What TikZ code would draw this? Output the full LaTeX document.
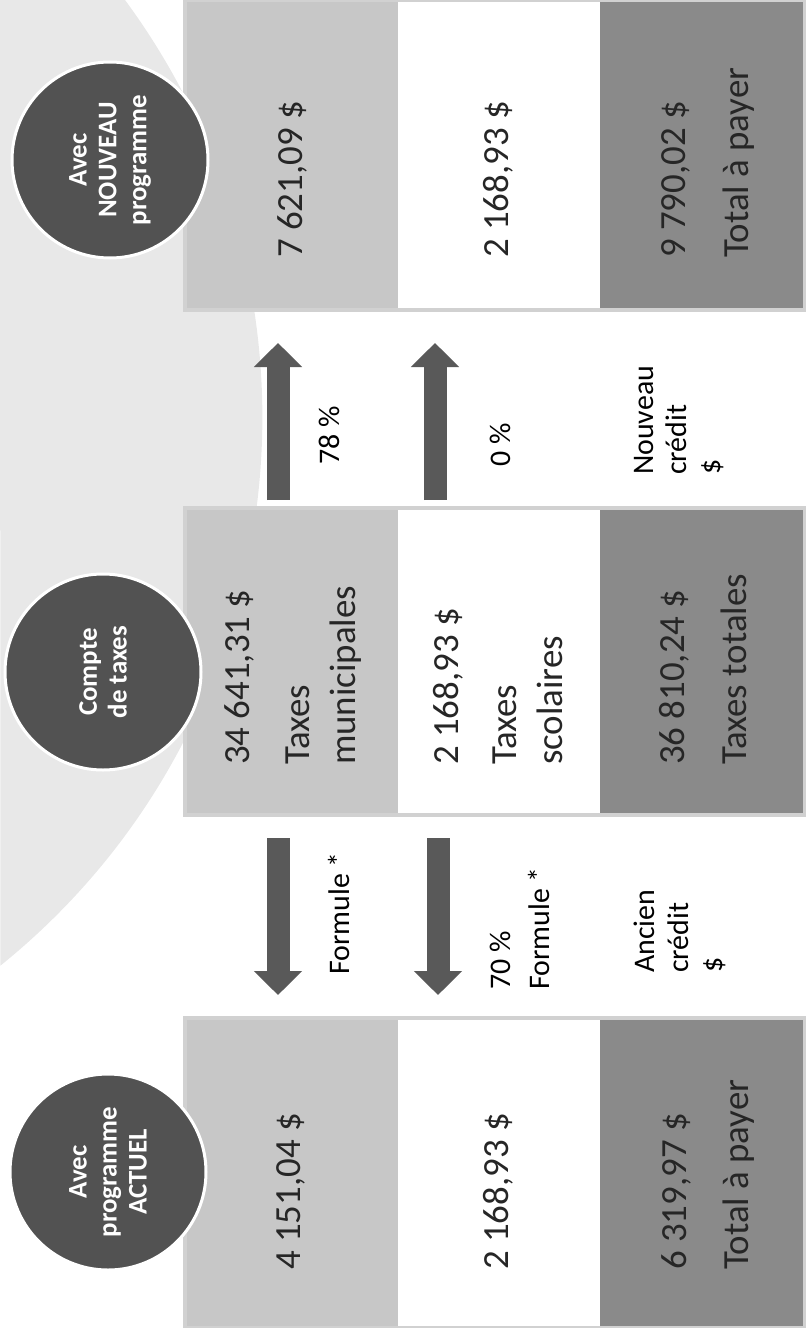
\documentclass[tikz,border=0pt]{standalone}
\usepackage{fontspec}
\setmainfont{Carlito}
\usetikzlibrary{arrows.meta}

\begin{document}
\begin{tikzpicture}[
	x=1bp, y=-1bp,
	amount/.style={rotate=90, anchor=west, align=left, inner sep=0pt, text=black!85, font=\fontsize{37}{46}\selectfont},
	note/.style={rotate=90, anchor=west, align=left, inner sep=0pt, font=\fontsize{30}{34}\selectfont},
	badge/.style={circle, fill=black!68, draw=white, line width=3bp, minimum size=196bp, inner sep=0pt, align=center, text=white, rotate=90, font=\bfseries\fontsize{27}{30}\selectfont},
	flow/.style={draw=black!65, line width=23bp, -{Triangle[width=47bp, length=24bp]}}
	]
	\useasboundingbox (0,0) rectangle (805,1328);
	% pale arc behind the badges
	\fill[black!9] (0,0) -- (125,0) arc[start angle=-36.4, end angle=51.1, radius=704] -- cycle;
	% the three blocks: amount, school tax, total
	\foreach \top/\bot in {0/310, 508/815, 1018/1328} {
		\fill[black!22] (185,\top) rectangle (398,\bot);
		\fill[white] (398,\top) rectangle (600,\bot);
		\fill[black!46] (600,\top) rectangle (805,\bot);
		\draw[black!18, line width=4bp] (185,\top) rectangle (805,\bot);
	}
	\node[badge] (nouv) at (110,160) {Avec\\NOUVEAU\\programme};
	\node[badge] (cpte) at (103,672) {Compte\\de taxes};
	\node[badge] (actu) at (108,1172) {Avec\\programme\\ACTUEL};
	% new program
	\node[amount] (nv1) at (292,258) {7 621,09 \$};
	\node[amount] (nv2) at (498,258) {2 168,93 \$};
	\node[amount] (nv3) at (708,258) {9 790,02 \$\\[17bp]Total à payer};
	% tax bill
	\node[amount] (tx1) at (293,765) {34 641,31 \$\\[14bp]Taxes\\municipales};
	\node[amount] (tx2) at (498,765) {2 168,93 \$\\[12bp]Taxes\\scolaires};
	\node[amount] (tx3) at (703,765) {36 810,24 \$\\[17bp]Taxes totales};
	% current program
	\node[amount] (ac1) at (291,1270) {4 151,04 \$};
	\node[amount] (ac2) at (498,1270) {2 168,93 \$};
	\node[amount] (ac3) at (708,1270) {6 319,97 \$\\[17bp]Total à payer};
	% arrows and rates
	\coordinate (u1a) at (278,500); \coordinate (u1b) at (278,343);
	\coordinate (u2a) at (435,500); \coordinate (u2b) at (435,343);
	\coordinate (d1a) at (278,838); \coordinate (d1b) at (278,995);
	\coordinate (d2a) at (438,838); \coordinate (d2b) at (438,995);
	\foreach \a/\b in {u1a/u1b, u2a/u2b, d1a/d1b, d2a/d2b} {\draw[flow] (\a) -- (\b);}
	\node[note] (r78) at (329,465) {78 \%};
	\node[note] (r0) at (500,467) {0 \%};
	\node[note] (ncr) at (679,475) {Nouveau\\crédit\\\$};
	\node[note] (f1) at (339,975) {Formule *};
	\node[note] (r70) at (520,990) {70 \%\\[5bp]Formule *};
	\node[note] (acr) at (680,973) {Ancien\\crédit\\\$};
\end{tikzpicture}
\end{document}
